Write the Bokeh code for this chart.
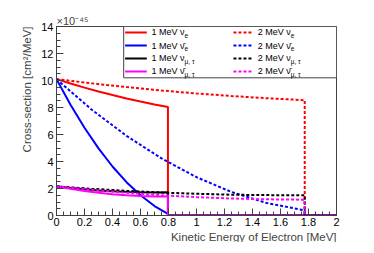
from bokeh.plotting import figure
from bokeh.models import Label, Range1d, SingleIntervalTicker, NumeralTickFormatter, Title
from bokeh.embed import file_html
from bokeh.resources import INLINE

FONT = "Liberation Sans"

# ---- data (x 1e-45 cm^2/MeV) ----
T_1MeV = [0.0, 0.1, 0.2, 0.3, 0.4, 0.5, 0.6, 0.7, 0.796]
nue_1MeV = [10.10, 9.78, 9.47, 9.19, 8.92, 8.67, 8.44, 8.23, 8.04]
anue_1MeV = [10.10, 8.21, 6.50, 4.97, 3.63, 2.47, 1.50, 0.70, 0.12]
numu_1MeV = [2.16, 2.04, 1.94, 1.86, 1.79, 1.75, 1.72, 1.71, 1.72]
anumu_1MeV = [2.16, 1.98, 1.82, 1.69, 1.58, 1.50, 1.44, 1.41, 1.40]

T_2MeV = [0.0, 0.25, 0.5, 0.75, 1.0, 1.25, 1.5, 1.773]
nue_2MeV = [10.10, 9.79, 9.51, 9.26, 9.04, 8.85, 8.69, 8.54]
anue_2MeV = [10.10, 7.85, 5.90, 4.23, 2.84, 1.74, 0.93, 0.38]
numu_2MeV = [2.16, 1.98, 1.83, 1.70, 1.61, 1.54, 1.51, 1.50]
anumu_2MeV = [2.16, 1.90, 1.68, 1.50, 1.36, 1.26, 1.20, 1.17]

X_END = 2.0
labels_1 = ["1 MeV ν", "1 MeV ν\u0304", "1 MeV ν", "1 MeV ν\u0304"]
labels_2 = ["2 MeV ν", "2 MeV ν\u0304", "2 MeV ν", "2 MeV ν\u0304"]
subs = ["e", "e", "μ, τ", "μ, τ"]
colors = ["#ff0000", "#0000ff", "#000000", "#ff00ff"]

p = figure(frame_width=280, frame_height=189, output_backend="svg", toolbar_location=None,
           x_range=Range1d(0, 2), y_range=Range1d(0, 14),
           min_border_left=56, min_border_right=22, min_border_top=26, min_border_bottom=22)
p.grid.visible = False
p.outline_line_color = "#404040"
p.outline_line_width = 1
p.background_fill_color = "white"
p.border_fill_color = "white"

p.title.text = "×10⁻⁴⁵"
p.title.align = "left"
p.title.text_font = FONT
p.title.text_font_size = "11px"
p.title.text_font_style = "normal"
p.title.standoff = 0

p.xaxis.ticker = SingleIntervalTicker(interval=0.2, num_minor_ticks=4)
p.yaxis.ticker = SingleIntervalTicker(interval=2, num_minor_ticks=4)
p.xaxis.formatter = NumeralTickFormatter(format="0.[0]")
p.yaxis.formatter = NumeralTickFormatter(format="0")
for ax in (p.xaxis, p.yaxis):
    ax.major_tick_in = 7
    ax.major_tick_out = 0
    ax.minor_tick_in = 4
    ax.minor_tick_out = 0
    ax.axis_line_color = "#404040"
    ax.major_tick_line_color = "#404040"
    ax.minor_tick_line_color = "#404040"
    ax.major_label_text_font = FONT
    ax.major_label_text_font_size = "11px"
    ax.major_label_text_color = "black"
p.xaxis.major_label_standoff = 2
p.yaxis.major_label_standoff = 3

p.add_layout(Title(text="Kinetic Energy of Electron [MeV]", align="right", text_font=FONT,
                   text_font_size="11.5px", text_font_style="normal", standoff=0), "below")
p.add_layout(Title(text="Cross-section [cm²/MeV]", align="right", text_font=FONT,
                   text_font_size="11.5px", text_font_style="normal", standoff=12), "left")

series_1 = [nue_1MeV, anue_1MeV, numu_1MeV, anumu_1MeV]
series_2 = [nue_2MeV, anue_2MeV, numu_2MeV, anumu_2MeV]
for vals, c in zip(series_1, colors):
    p.line(T_1MeV + [T_1MeV[-1], X_END], vals + [0, 0], line_color=c, line_width=2)
for vals, c in zip(series_2, colors):
    p.line(T_2MeV + [T_2MeV[-1], X_END], vals + [0, 0], line_color=c, line_width=2,
           line_dash="3 2")

# ---- legend ----
p.quad(left=[0.48], right=[2.0], bottom=[10.2], top=[14.0], fill_color="white",
       line_color="#404040", line_width=1)
row_y = [13.56, 12.59, 11.63, 10.67]
for i in range(4):
    p.line([0.49, 0.645], [row_y[i], row_y[i]], line_color=colors[i], line_width=2)
    p.line([1.264, 1.40], [row_y[i], row_y[i]], line_color=colors[i], line_width=2,
           line_dash="3 2")
    for x0, txt in ((0.679, labels_1[i]), (1.437, labels_2[i])):
        p.add_layout(Label(x=x0, y=row_y[i], text=txt, text_font=FONT,
                           text_font_size="9px", text_baseline="middle",
                           text_color="black"))
        p.add_layout(Label(x=x0, y=row_y[i], text=subs[i], text_font=FONT,
                           text_font_size="6.5px", text_baseline="middle",
                           x_offset=33, y_offset=-3, text_color="black"))

open("out.html", "w").write(file_html(p, INLINE))
